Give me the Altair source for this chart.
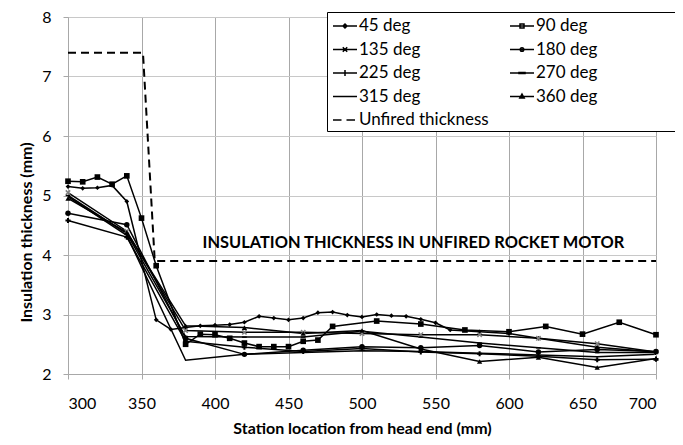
import altair as alt
import pandas as pd

# ---------------- data ----------------
x45 = [300, 310, 320, 330, 340, 360, 370, 380, 390, 400, 410, 420, 430, 440, 450, 460, 470, 480,
       490, 500, 510, 520, 530, 540, 550, 560, 580, 600, 620, 660, 700]
y45 = [5.15, 5.12, 5.13, 5.17, 4.90, 2.91, 2.75, 2.78, 2.81, 2.82, 2.83, 2.87, 2.97, 2.94, 2.91, 2.94,
       3.03, 3.04, 2.99, 2.96, 3.00, 2.98, 2.97, 2.92, 2.86, 2.74, 2.71, 2.68, 2.60, 2.45, 2.37]

x90 = [300, 310, 320, 330, 340, 350, 360, 380, 390, 400, 410, 420, 430, 440, 450, 460, 470, 480,
       510, 540, 570, 600, 625, 650, 675, 700]
y90 = [5.24, 5.23, 5.31, 5.19, 5.33, 4.62, 3.82, 2.50, 2.67, 2.66, 2.60, 2.52, 2.46, 2.46, 2.46, 2.55,
       2.57, 2.80, 2.89, 2.84, 2.74, 2.71, 2.80, 2.67, 2.87, 2.66]

x40 = [300, 340, 380, 420, 460, 500, 540, 580, 620, 660, 700]
y135 = [5.05, 4.40, 2.73, 2.70, 2.70, 2.68, 2.66, 2.66, 2.60, 2.51, 2.37]
y180 = [4.70, 4.51, 2.60, 2.33, 2.40, 2.46, 2.44, 2.48, 2.37, 2.41, 2.38]
y225 = [4.58, 4.30, 2.55, 2.45, 2.38, 2.43, 2.37, 2.34, 2.30, 2.24, 2.25]
y270 = [5.00, 4.36, 2.63, 2.62, 2.62, 2.72, 2.62, 2.52, 2.44, 2.36, 2.36]
y315 = [4.98, 4.33, 2.23, 2.33, 2.36, 2.39, 2.38, 2.35, 2.32, 2.29, 2.33]
y360 = [4.95, 4.38, 2.81, 2.78, 2.68, 2.73, 2.42, 2.21, 2.28, 2.11, 2.26]

x_unfired = [300, 351, 359, 700]
y_unfired = [7.4, 7.4, 3.9, 3.9]

series_names = ["45 deg", "90 deg", "135 deg", "180 deg", "225 deg", "270 deg", "315 deg", "360 deg"]
unfired_name = "Unfired thickness"
annotation_text = ["INSULATION THICKNESS IN UNFIRED ROCKET MOTOR"]
annotation_x = [535]
annotation_y = [4.2]

x_ticks = [300, 350, 400, 450, 500, 550, 600, 650, 700]
y_ticks = [2, 3, 4, 5, 6, 7, 8]

series_data = [
    ("45 deg", x45, y45), ("90 deg", x90, y90),
    ("135 deg", x40, y135), ("180 deg", x40, y180),
    ("225 deg", x40, y225), ("270 deg", x40, y270),
    ("315 deg", x40, y315), ("360 deg", x40, y360),
]
rows = []
for name, xs, ys in series_data:
    for i, (xv, yv) in enumerate(zip(xs, ys)):
        rows.append({"series": name, "x": xv, "y": yv, "order": i})
df = pd.DataFrame(rows)
udf = pd.DataFrame({"series": unfired_name, "x": x_unfired, "y": y_unfired,
                    "order": list(range(len(x_unfired)))})
legend_df = pd.concat([df, udf], ignore_index=True)
ann_df = pd.DataFrame({"label": annotation_text, "x": annotation_x, "y": annotation_y})

FONT = "Lato"

# ---------------- marker shapes (plot) ----------------
x_shape = "M-1,-0.6L-0.6,-1L0,-0.4L0.6,-1L1,-0.6L0.4,0L1,0.6L0.6,1L0,0.4L-0.6,1L-1,0.6L-0.4,0Z"
dash_shape = "M-1,-0.3H1V0.3H-1Z"
marker_style = {
    "45 deg": ("diamond", 22, "black"),
    "90 deg": ("square", 32, "black"),
    "135 deg": (x_shape, 30, "#808080"),
    "180 deg": ("circle", 30, "black"),
    "225 deg": ("cross", 26, "black"),
    "270 deg": (dash_shape, 22, "black"),
    "360 deg": ("triangle-up", 28, "black"),
}

# ---------------- legend symbols (line + small marker, drawn as strokes) ----------------
L = "M-1.2,0H1.2"
legend_path_by_name = {
    "45 deg": L + "M0,-0.2L0.2,0L0,0.2L-0.2,0Z",
    "90 deg": L + "M-0.2,-0.2H0.2V0.2H-0.2Z",
    "135 deg": L + "M-0.22,-0.22L0.22,0.22M-0.22,0.22L0.22,-0.22",
    "180 deg": L + "M-0.18,0A0.18,0.18,0,1,0,0.18,0A0.18,0.18,0,1,0,-0.18,0Z",
    "225 deg": L + "M0,-0.3V0.3",
    "270 deg": L + "M-0.3,-0.06H0.3V0.06H-0.3Z",
    "315 deg": L,
    "360 deg": L + "M0,-0.25L0.22,0.15H-0.22Z",
    unfired_name: "M-1.2,0H-0.35M0.15,0H1.0",
}
# legend fills column by column: left column first, then right column
legend_order = ["45 deg", "135 deg", "225 deg", "315 deg", unfired_name,
                "90 deg", "180 deg", "270 deg", "360 deg"]
legend_paths = [legend_path_by_name[n] for n in legend_order]

x_enc = alt.X("x:Q", scale=alt.Scale(domain=[300, 700], nice=False, zero=False),
              axis=alt.Axis(values=x_ticks, format="d", title="Station location from head end (mm)",
                            grid=True, gridColor="#a8a8a8", gridWidth=1,
                            domainColor="#a8a8a8", tickColor="#a8a8a8", tickSize=5,
                            labelFont=FONT, labelFontSize=16, labelColor="black", labelPadding=16,
                            titleFont=FONT, titleFontSize=16, titleFontWeight="bold",
                            titleColor="black", titleY=54, titleBaseline="middle"))
y_enc = alt.Y("y:Q", scale=alt.Scale(domain=[2, 8], nice=False, zero=False),
              axis=alt.Axis(values=y_ticks, format="d", title="Insulation thickness (mm)",
                            grid=True, gridColor="#c8c8c8", gridWidth=1,
                            domainColor="#a8a8a8", tickColor="#a8a8a8", tickSize=5,
                            labelFont=FONT, labelFontSize=16, labelColor="black", labelPadding=12,
                            titleFont=FONT, titleFontSize=16, titleFontWeight="bold",
                            titleColor="black", titleX=-42, titleY=215, titleAngle=270,
                            titleAlign="center", titleBaseline="middle"))

lines = alt.Chart(df).mark_line(strokeWidth=1.5, color="black").encode(
    x=x_enc, y=y_enc, detail="series:N", order="order:Q")

unfired = alt.Chart(udf).mark_line(strokeWidth=2, color="black", strokeDash=[8, 5]).encode(
    x=x_enc, y=y_enc, order="order:Q")

point_layers = []
for name, (shp, sz, col) in marker_style.items():
    point_layers.append(
        alt.Chart(df).transform_filter(alt.datum.series == name)
        .mark_point(filled=True, opacity=1, shape=shp, size=sz, color=col)
        .encode(x=x_enc, y=y_enc)
    )

text = alt.Chart(ann_df).mark_text(font=FONT, fontSize=16.4, fontWeight="bold", color="black",
                                   align="center", baseline="middle").encode(
    x=x_enc, y=y_enc, text="label:N")

# widen the right legend column so the frame reaches the reference width
pad = "\u00a0" * 18 + "\u2800"
legend_layer = alt.Chart(legend_df).mark_point(
    opacity=0, filled=False, color="black", strokeWidth=1.5
).encode(
    x=x_enc, y=y_enc,
    shape=alt.Shape("series:N", scale=alt.Scale(domain=legend_order, range=legend_paths),
                    legend=alt.Legend(title=None, orient="none", legendX=259, legendY=-5,
                                      columns=2, gridAlign="all", padding=3, rowPadding=4.5,
                                      columnPadding=6,
                                      symbolSize=400, symbolOffset=4, labelOffset=3,
                                      symbolOpacity=1, symbolFillColor="black",
                                      symbolStrokeColor="black", symbolStrokeWidth=1.5,
                                      labelFont=FONT, labelFontSize=17, labelColor="black",
                                      labelExpr="datum.label == '90 deg' ? datum.label + '" + pad + "' : datum.label",
                                      strokeColor="black", fillColor="white", labelLimit=400)),
)

chart = alt.layer(lines, unfired, *point_layers, text, legend_layer).properties(
    width=588, height=357,
    padding={"left": 60, "top": 9, "right": 19, "bottom": 63},
    autosize=alt.AutoSizeParams(type="none"),
).configure_view(strokeWidth=0)

chart.save("out.html", embed_options={"renderer": "svg", "actions": False})
